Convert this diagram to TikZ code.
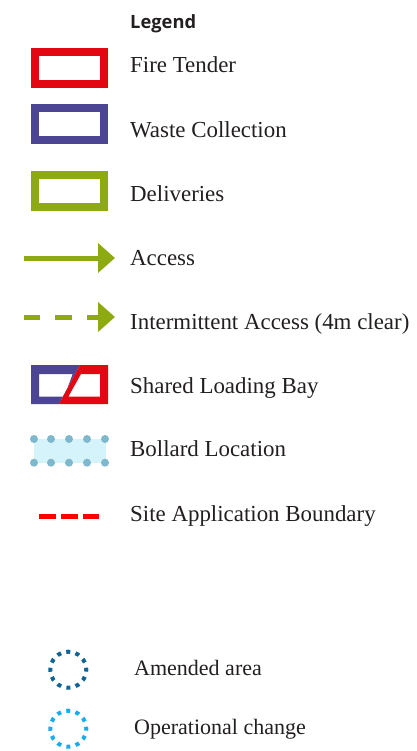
\documentclass[tikz,border=0pt]{standalone}
\usepackage{fontspec}
\setmainfont{Liberation Serif}
\newfontfamily\headfont{Open Sans}
\usepackage{xcolor}
\usetikzlibrary{arrows.meta}

\definecolor{legendtext}{HTML}{231F20}
\definecolor{firered}{HTML}{E30613}
\definecolor{wastepurple}{HTML}{4B4594}
\definecolor{delivgreen}{HTML}{8DAA12}
\definecolor{bollarddot}{HTML}{7FB8CC}
\definecolor{bollardfill}{HTML}{D5F3FB}
\definecolor{siteRed}{HTML}{FF0000}
\definecolor{amendblue}{HTML}{0E6497}
\definecolor{opblue}{HTML}{16AEEA}

\begin{document}
\begin{tikzpicture}[
    x=1pt, y=-1pt,
    every node/.style={inner sep=0pt, text=legendtext},
    keybox/.style={draw, line width=8pt, minimum width=69pt, minimum height=32pt},
    keytext/.style={anchor=base west, font=\fontsize{22.9}{27}\selectfont},
    ringkey/.style={draw, circle, line width=4pt, minimum size=36pt,
        dash pattern=on 4pt off 5.42pt, dash phase=2pt},
    >={Triangle[length=17pt, width=29pt]}
]
\useasboundingbox (0,0) rectangle (416,751);

% Title
\node[anchor=base west, font=\headfont\bfseries\fontsize{18.3}{22}\selectfont] (title) at (130,29) {Legend};

% Boxes
\node[keybox, draw=firered] (fire) at (69.5,68) {};
\node[keytext] (firetxt) at (130,72.7) {Fire Tender};
\node[keybox, draw=wastepurple] (waste) at (69.5,124.5) {};
\node[keytext] (wastetxt) at (130,137.3) {Waste Collection};
\node[keybox, draw=delivgreen] (deliv) at (69.5,190.7) {};
\node[keytext] (delivtxt) at (130,201) {Deliveries};

% Access arrows
\coordinate (accS) at (23.7,258);
\coordinate (accE) at (115,258);
\draw[->, delivgreen, line width=5pt] (accS) -- (accE);
\node[keytext] (acctxt) at (130,265) {Access};

\coordinate (intS) at (23.7,317);
\coordinate (intE) at (115,317);
\draw[->, delivgreen, line width=5pt, dash pattern=on 16.3pt off 15.3pt] (intS) -- (intE);
\node[keytext] (inttxt) at (130,329) {Intermittent Access (4m clear)};

% Shared loading bay
\fill[wastepurple, even odd rule] (31,365) -- (80,365) -- (59,404) -- (31,404) -- cycle
    (39,374) -- (72.7,374) -- (64.3,396.7) -- (39,396.7) -- cycle;
\fill[firered, even odd rule] (80,365) -- (108,365) -- (108,404) -- (59,404) -- cycle
    (81,374) -- (100,374) -- (100,396.7) -- (68.3,396.7) -- cycle;
\node[keytext] (sharedtxt) at (130,393.3) {Shared Loading Bay};

% Bollards
\fill[bollardfill] (34,439) rectangle (106,463);
\foreach \bx in {34,51,69,87,105} {
    \fill[bollarddot] (\bx,439) circle (4pt);
    \fill[bollarddot] (\bx,462.7) circle (4pt);
}
\node[keytext] (bollardtxt) at (130,456.7) {Bollard Location};

% Site boundary
\coordinate (siteS) at (39.3,516.7);
\coordinate (siteE) at (99.3,516.7);
\draw[siteRed, line width=5.3pt, dash pattern=on 16.3pt off 5.7pt] (siteS) -- (siteE);
\node[keytext] (sitetxt) at (130,521.7) {Site Application Boundary};

% Changes
\node[ringkey, draw=amendblue] (amend) at (68.3,669.7) {};
\node[keytext, font=\fontsize{22}{26}\selectfont] (amendtxt) at (134,675.7) {Amended area};
\node[ringkey, draw=opblue] (oper) at (68.3,728.7) {};
\node[keytext, font=\fontsize{22}{26}\selectfont] (opertxt) at (134,734.3) {Operational change};

\end{tikzpicture}
\end{document}
